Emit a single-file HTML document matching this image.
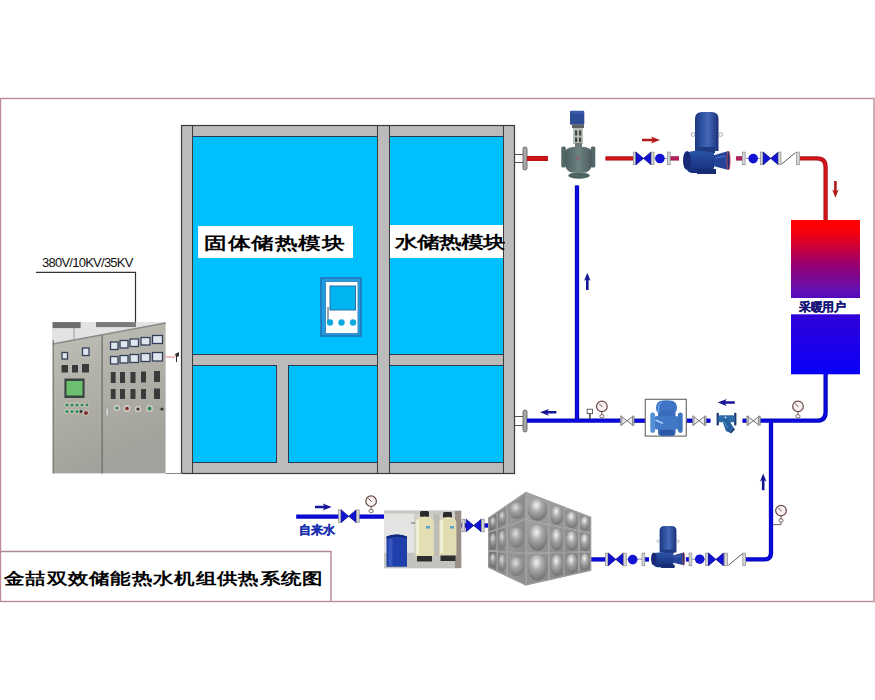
<!DOCTYPE html>
<html><head><meta charset="utf-8">
<style>
html,body{margin:0;padding:0;background:#fff;}
body{width:875px;height:700px;position:relative;overflow:hidden;font-family:"Liberation Sans",sans-serif;}
svg{position:absolute;left:0;top:0;}
.t{position:absolute;white-space:nowrap;line-height:1;}
</style></head><body>
<svg width="875" height="700" viewBox="0 0 875 700">
<defs>
<linearGradient id="ug" x1="0" y1="0" x2="0" y2="1">
<stop offset="0" stop-color="#ff0000"/>
<stop offset="0.08" stop-color="#f4000e"/>
<stop offset="0.16" stop-color="#d40030"/>
<stop offset="0.29" stop-color="#980070"/>
<stop offset="0.45" stop-color="#6410b0"/>
<stop offset="0.62" stop-color="#3000d8"/>
<stop offset="1" stop-color="#0800fa"/>
</linearGradient>

<g id="fl"><rect x="0" y="-6.3" width="2.8" height="12.6" fill="#d6d6d6" stroke="#8a8a8a" stroke-width="0.7"/></g>
<g id="bt"><path d="M0,-6.3 L15,6.3 L15,-6.3 L0,6.3 Z" fill="#1212d2" stroke="#00008a" stroke-width="0.7" stroke-linejoin="round"/></g>
<g id="gv"><path d="M0,-4.3 L11,4.3 L11,-4.3 L0,4.3 Z" fill="#ececec" stroke="#6a6a6a" stroke-width="0.9"/><rect x="11" y="-4.8" width="1.6" height="9.6" fill="#bbb" stroke="#777" stroke-width="0.5"/><rect x="-1" y="-4.8" width="1.6" height="9.6" fill="#bbb" stroke="#777" stroke-width="0.5"/></g>
<g id="ck"><line x1="0.5" y1="5.8" x2="14.5" y2="-5.8" stroke="#5a5a5a" stroke-width="1"/></g>
<g id="pg"><circle cx="0" cy="0" r="5.3" fill="#fbf2f2" stroke="#6a4848" stroke-width="1.2"/><line x1="-2.8" y1="-2.8" x2="0.5" y2="0.5" stroke="#6a4848" stroke-width="1"/><line x1="0" y1="5.3" x2="0" y2="8.5" stroke="#6a4848" stroke-width="1"/><rect x="-2" y="8.3" width="4" height="3" rx="1.3" fill="#fff" stroke="#6a5050" stroke-width="0.9"/></g>
<linearGradient id="motor" x1="0" y1="0" x2="1" y2="0"><stop offset="0" stop-color="#1c3680"/><stop offset="0.3" stop-color="#2e54a4"/><stop offset="0.55" stop-color="#4468b8"/><stop offset="1" stop-color="#1a3078"/></linearGradient>
<linearGradient id="vol" x1="0" y1="0" x2="0" y2="1"><stop offset="0" stop-color="#2a54a8"/><stop offset="1" stop-color="#142a78"/></linearGradient>
<linearGradient id="vbody" x1="0" y1="0" x2="1" y2="0"><stop offset="0" stop-color="#4a5e60"/><stop offset="0.5" stop-color="#6f8282"/><stop offset="1" stop-color="#4a5c5e"/></linearGradient>
<linearGradient id="cab" x1="0" y1="0" x2="0.3" y2="1"><stop offset="0" stop-color="#c0c0b8"/><stop offset="0.5" stop-color="#b0b0a8"/><stop offset="1" stop-color="#a2a29c"/></linearGradient>
<linearGradient id="tankL" x1="0" y1="0" x2="1" y2="0"><stop offset="0" stop-color="#6e6e6e"/><stop offset="0.6" stop-color="#989898"/><stop offset="1" stop-color="#8a8a8a"/></linearGradient>
<linearGradient id="tankR" x1="0" y1="0" x2="1" y2="1"><stop offset="0" stop-color="#a4a4a4"/><stop offset="1" stop-color="#7c7c7c"/></linearGradient>
<radialGradient id="dome" cx="0.45" cy="0.3" r="0.75"><stop offset="0" stop-color="#f4f4f4"/><stop offset="0.4" stop-color="#a8a8a8"/><stop offset="1" stop-color="#6a6a6a"/></radialGradient>
</defs>
<!-- outer border -->
<rect x="0.5" y="98.5" width="873.5" height="503" fill="none" stroke="#bd8a95" stroke-width="1.4"/>
<!-- title box -->
<polyline points="0.5,551.5 331,551.5 331,601.5" fill="none" stroke="#b08a90" stroke-width="1.4"/>

<!-- storage frame -->
<rect x="181.5" y="125.5" width="333" height="348" fill="#bbbbbb" stroke="#3a3a3a" stroke-width="1.2"/>
<rect x="192.5" y="136.5" width="185" height="218" fill="#00bfff" stroke="#2a3a50" stroke-width="1"/>
<rect x="389.5" y="136.5" width="114" height="218" fill="#00bfff" stroke="#2a3a50" stroke-width="1"/>
<rect x="192.5" y="365.5" width="84" height="97" fill="#00bfff" stroke="#2a3a50" stroke-width="1"/>
<rect x="288.5" y="365.5" width="89" height="97" fill="#00bfff" stroke="#2a3a50" stroke-width="1"/>
<rect x="389.5" y="365.5" width="114" height="97" fill="#00bfff" stroke="#2a3a50" stroke-width="1"/>
<g stroke="#3a3a3a" stroke-width="1">
<line x1="192.5" y1="125.5" x2="192.5" y2="473"/>
<line x1="377.5" y1="125.5" x2="377.5" y2="473"/>
<line x1="389.5" y1="125.5" x2="389.5" y2="473"/>
<line x1="503.5" y1="125.5" x2="503.5" y2="473"/>
</g>
<line x1="166" y1="473.5" x2="182" y2="473.5" stroke="#888" stroke-width="1"/>

<!-- labels boxes -->
<rect x="198" y="226" width="155" height="32" fill="#fff"/>
<rect x="390" y="225" width="113" height="33" fill="#fff"/>

<!-- controller -->
<rect x="321" y="278" width="40" height="58" fill="#1e9ee0" stroke="#2470b0" stroke-width="1.5"/>
<rect x="325.5" y="281.5" width="32.5" height="52" fill="#fff" stroke="#3a8ac8" stroke-width="1"/>
<rect x="330" y="286" width="25.5" height="24" fill="#00b4f0" stroke="#2a70a8" stroke-width="1"/>
<line x1="328" y1="307" x2="328" y2="321" stroke="#2a4a70" stroke-width="1"/>
<circle cx="330" cy="322.5" r="3.2" fill="#10a8e0"/>
<circle cx="341.5" cy="322.5" r="3.2" fill="#10a8e0"/>
<circle cx="353" cy="322.5" r="3.2" fill="#10a8e0"/>

<!-- top outlet -->
<line x1="515" y1="154.5" x2="524" y2="154.5" stroke="#555" stroke-width="1"/>
<line x1="515" y1="162.5" x2="524" y2="162.5" stroke="#555" stroke-width="1"/>
<rect x="523" y="147" width="4" height="23" rx="2" fill="#a8a8a8" stroke="#555" stroke-width="0.8"/>
<rect x="527" y="156" width="21" height="5" fill="#d01010"/>
<!-- bottom outlet -->
<line x1="515" y1="416.5" x2="524" y2="416.5" stroke="#555" stroke-width="1"/>
<line x1="515" y1="425.5" x2="524" y2="425.5" stroke="#555" stroke-width="1"/>
<rect x="523" y="410" width="4" height="22" rx="2" fill="#a8a8a8" stroke="#555" stroke-width="0.8"/>


<!-- ===== PIPES ===== -->
<g fill="none" stroke-width="4.3" stroke-linecap="butt">
<path d="M527,158.4 H548" stroke="#a81616"/>
<path d="M605.5,158.4 H633.3" stroke="#a81616"/>
<path d="M670,158.4 H679" stroke="#901848"/>
<path d="M736,158.4 H742.3" stroke="#901848"/>
<path d="M800,158.4 H817 Q825.6,158.4 825.6,167 V221" stroke="#a81616"/>
<path d="M825.6,374 V412 Q825.6,420.7 817,420.7 H760" stroke="#0606b0"/>
<path d="M527,420.7 H620.5" stroke="#0606b0"/>
<path d="M633.5,420.7 H646" stroke="#0606b0"/>
<path d="M686,420.7 H693.3" stroke="#0606b0"/>
<path d="M706,420.7 H710.4" stroke="#0606b0"/>
<path d="M742.6,420.7 H746.5" stroke="#0606b0"/>
<path d="M577,185.5 V420.7" stroke="#0606b0"/>
<path d="M771,420.7 V553 Q771,559.4 764.6,559.4 H745.8" stroke="#0606b0"/>
<path d="M591,559.4 H605.5" stroke="#0606b0"/>
<path d="M644.5,559.4 H649" stroke="#0606b0"/>
<path d="M686,559.4 H689" stroke="#0606b0"/>
<path d="M483,525.5 H489" stroke="#0606b0"/>
<path d="M461,525.5 H466.5" stroke="#0606b0"/>
<path d="M296.3,516.6 H339.5" stroke="#0606b0"/>
<path d="M358.5,516.6 H384.5" stroke="#0606b0"/>
</g>
<g fill="none" stroke-width="2.4" stroke-linecap="butt">
<path d="M527,158.4 H548" stroke="#d81418"/>
<path d="M605.5,158.4 H633.3" stroke="#d81418"/>
<path d="M670,158.4 H679" stroke="#c02060"/>
<path d="M736,158.4 H742.3" stroke="#c02060"/>
<path d="M800,158.4 H817 Q825.6,158.4 825.6,167 V221" stroke="#d81418"/>
<path d="M825.6,374 V412 Q825.6,420.7 817,420.7 H760" stroke="#0a0ae4"/>
<path d="M527,420.7 H620.5" stroke="#0a0ae4"/>
<path d="M633.5,420.7 H646" stroke="#0a0ae4"/>
<path d="M686,420.7 H693.3" stroke="#0a0ae4"/>
<path d="M706,420.7 H710.4" stroke="#0a0ae4"/>
<path d="M742.6,420.7 H746.5" stroke="#0a0ae4"/>
<path d="M577,185.5 V420.7" stroke="#0a0ae4"/>
<path d="M771,420.7 V553 Q771,559.4 764.6,559.4 H745.8" stroke="#0a0ae4"/>
<path d="M591,559.4 H605.5" stroke="#0a0ae4"/>
<path d="M644.5,559.4 H649" stroke="#0a0ae4"/>
<path d="M686,559.4 H689" stroke="#0a0ae4"/>
<path d="M483,525.5 H489" stroke="#0a0ae4"/>
<path d="M461,525.5 H466.5" stroke="#0a0ae4"/>
<path d="M296.3,516.6 H339.5" stroke="#0a0ae4"/>
<path d="M358.5,516.6 H384.5" stroke="#0a0ae4"/>
</g>
<line x1="654" y1="158.4" x2="668" y2="158.4" stroke="#6a6a9a" stroke-width="0.8"/>
<line x1="746" y1="158.4" x2="761" y2="158.4" stroke="#6a6a9a" stroke-width="0.8"/>
<line x1="692" y1="559.2" x2="706" y2="559.2" stroke="#6a6a9a" stroke-width="0.8"/>
<line x1="626" y1="559.2" x2="642" y2="559.2" stroke="#6a6a9a" stroke-width="0.8"/>

<!-- top valve group -->
<use href="#fl" x="633.3" y="158.4"/>
<use href="#bt" x="636" y="158.4"/>
<use href="#fl" x="651.2" y="158.4"/>
<circle cx="659.9" cy="158.5" r="4.8" fill="#1212d2"/>
<use href="#fl" x="667.4" y="158.4"/>
<use href="#fl" x="742.3" y="158.4"/>
<circle cx="753.2" cy="158.6" r="4.8" fill="#1212d2"/>
<use href="#fl" x="760.6" y="158.4"/>
<use href="#bt" x="763.2" y="158.4"/>
<use href="#fl" x="778.2" y="158.4"/>
<use href="#ck" x="781" y="158.4"/>
<use href="#fl" x="796.5" y="158.4"/>

<!-- bottom valve group -->
<use href="#fl" x="605.5" y="559.4"/>
<use href="#bt" x="608.3" y="559.4"/>
<use href="#fl" x="623.5" y="559.4"/>
<circle cx="632.7" cy="559.6" r="4.8" fill="#1212d2"/>
<use href="#fl" x="642" y="559.4"/>
<use href="#fl" x="689" y="559.4"/>
<circle cx="699.7" cy="559.2" r="4.8" fill="#1212d2"/>
<use href="#fl" x="705.6" y="559.4"/>
<use href="#bt" x="708.4" y="559.4"/>
<use href="#fl" x="724.6" y="559.4"/>
<use href="#ck" x="728" y="559.4"/>
<use href="#fl" x="742.8" y="559.4"/>

<!-- intake valves -->
<use href="#fl" x="338.6" y="516.2"/>
<use href="#bt" x="341.2" y="516.2"/>
<use href="#fl" x="356.4" y="516.2"/>
<use href="#fl" x="462" y="525.5"/>
<use href="#bt" x="466.2" y="525.5"/>
<use href="#fl" x="481.4" y="525.5"/>

<!-- return gate valves -->
<use href="#gv" x="621.5" y="420.8"/>
<use href="#gv" x="693.5" y="420.8"/>
<use href="#gv" x="747.8" y="420.8"/>

<!-- gauges -->
<use href="#pg" x="601.9" y="406.4"/>
<use href="#pg" x="798" y="406.4"/>
<use href="#pg" x="371.1" y="501.2"/>
<use href="#pg" x="781" y="510.6"/>
<path d="M781,522 V524.6 H773" fill="none" stroke="#5a5050" stroke-width="0.9"/>
<rect x="587.2" y="409.2" width="5.3" height="4.4" fill="#fff" stroke="#555" stroke-width="0.9"/>
<line x1="589.9" y1="413.6" x2="589.9" y2="418.8" stroke="#333" stroke-width="1.4"/>

<!-- arrows -->
<g fill="#141496" stroke="none">
<path d="M540,412.3 L549,408.9 L547.6,411 H556.4 V413.6 H547.6 L549,415.7 Z"/>
<path d="M717.7,402.5 L726.7,399.1 L725.3,401.2 H734.8 V403.8 H725.3 L726.7,405.9 Z"/>
<path d="M587.3,272.8 L584,281 L586,279.6 V290 H588.6 V279.6 L590.6,281 Z"/>
<path d="M763.2,473.5 L759.9,481.7 L761.9,480.3 V490.2 H764.5 V480.3 L766.5,481.7 Z"/>
<path d="M331.7,507 L322.7,503.6 L324.1,505.7 H315 V508.3 H324.1 L322.7,510.4 Z"/>
</g>
<g fill="#b41c1c" stroke="none">
<path d="M660,140 L651,136.6 L652.4,138.7 H642 V141.3 H652.4 L651,143.4 Z"/>
<path d="M835.4,197.8 L832.1,189.6 L834.1,191 V181 H836.7 V191 L838.7,189.6 Z"/>
</g>

<!-- tank -->
<polygon points="488.6,517.9 525.8,492.4 525.8,585 488.6,567.4" fill="url(#tankL)"/>
<polygon points="525.8,492.4 590.7,517.2 590.7,570.4 525.8,585" fill="url(#tankR)"/>
<polygon points="488.6,517.9 497.4,511.9 497.4,529.2 488.6,532.3" fill="none" stroke="#c4c4c4" stroke-width="1.2"/>
<polygon points="488.6,517.9 497.4,511.9 497.4,529.2 488.6,532.3" fill="none" stroke="#6a6a6a" stroke-width="0.5"/>
<ellipse cx="493.0" cy="522.8" rx="3.5" ry="5.7" fill="url(#dome)" opacity="0.8"/>
<polygon points="488.6,532.3 497.4,529.2 497.4,551.3 488.6,550.6" fill="none" stroke="#c4c4c4" stroke-width="1.2"/>
<polygon points="488.6,532.3 497.4,529.2 497.4,551.3 488.6,550.6" fill="none" stroke="#6a6a6a" stroke-width="0.5"/>
<ellipse cx="493.0" cy="540.8" rx="3.5" ry="7.3" fill="url(#dome)" opacity="0.8"/>
<polygon points="488.6,550.6 497.4,551.3 497.4,571.6 488.6,567.4" fill="none" stroke="#c4c4c4" stroke-width="1.2"/>
<polygon points="488.6,550.6 497.4,551.3 497.4,571.6 488.6,567.4" fill="none" stroke="#6a6a6a" stroke-width="0.5"/>
<ellipse cx="493.0" cy="560.2" rx="3.5" ry="6.7" fill="url(#dome)" opacity="0.8"/>
<polygon points="497.4,511.9 506.9,505.4 506.9,525.9 497.4,529.2" fill="none" stroke="#c4c4c4" stroke-width="1.2"/>
<polygon points="497.4,511.9 506.9,505.4 506.9,525.9 497.4,529.2" fill="none" stroke="#6a6a6a" stroke-width="0.5"/>
<ellipse cx="502.2" cy="518.1" rx="3.8" ry="6.9" fill="url(#dome)" opacity="0.8"/>
<polygon points="497.4,529.2 506.9,525.9 506.9,552.0 497.4,551.3" fill="none" stroke="#c4c4c4" stroke-width="1.2"/>
<polygon points="497.4,529.2 506.9,525.9 506.9,552.0 497.4,551.3" fill="none" stroke="#6a6a6a" stroke-width="0.5"/>
<ellipse cx="502.2" cy="539.6" rx="3.8" ry="8.8" fill="url(#dome)" opacity="0.8"/>
<polygon points="497.4,551.3 506.9,552.0 506.9,576.1 497.4,571.6" fill="none" stroke="#c4c4c4" stroke-width="1.2"/>
<polygon points="497.4,551.3 506.9,552.0 506.9,576.1 497.4,571.6" fill="none" stroke="#6a6a6a" stroke-width="0.5"/>
<ellipse cx="502.2" cy="562.7" rx="3.8" ry="8.1" fill="url(#dome)" opacity="0.8"/>
<polygon points="506.9,505.4 525.8,492.4 525.8,519.3 506.9,525.9" fill="none" stroke="#c4c4c4" stroke-width="1.2"/>
<polygon points="506.9,505.4 525.8,492.4 525.8,519.3 506.9,525.9" fill="none" stroke="#6a6a6a" stroke-width="0.5"/>
<ellipse cx="516.4" cy="510.7" rx="7.6" ry="8.2" fill="url(#dome)" opacity="0.8"/>
<polygon points="506.9,525.9 525.8,519.3 525.8,553.5 506.9,552.0" fill="none" stroke="#c4c4c4" stroke-width="1.2"/>
<polygon points="506.9,525.9 525.8,519.3 525.8,553.5 506.9,552.0" fill="none" stroke="#6a6a6a" stroke-width="0.5"/>
<ellipse cx="516.4" cy="537.7" rx="7.6" ry="10.5" fill="url(#dome)" opacity="0.8"/>
<polygon points="506.9,552.0 525.8,553.5 525.8,585.0 506.9,576.1" fill="none" stroke="#c4c4c4" stroke-width="1.2"/>
<polygon points="506.9,552.0 525.8,553.5 525.8,585.0 506.9,576.1" fill="none" stroke="#6a6a6a" stroke-width="0.5"/>
<ellipse cx="516.4" cy="566.6" rx="7.6" ry="9.6" fill="url(#dome)" opacity="0.8"/>
<polygon points="525.8,492.4 549.1,501.3 549.1,524.8 525.8,520.2" fill="none" stroke="#c4c4c4" stroke-width="1.2"/>
<polygon points="525.8,492.4 549.1,501.3 549.1,524.8 525.8,520.2" fill="none" stroke="#6a6a6a" stroke-width="0.5"/>
<ellipse cx="537.4" cy="509.7" rx="9.8" ry="11.1" fill="url(#dome)" opacity="1.0"/>
<polygon points="525.8,520.2 549.1,524.8 549.1,552.7 525.8,553.1" fill="none" stroke="#c4c4c4" stroke-width="1.2"/>
<polygon points="525.8,520.2 549.1,524.8 549.1,552.7 525.8,553.1" fill="none" stroke="#6a6a6a" stroke-width="0.5"/>
<ellipse cx="537.4" cy="537.7" rx="9.8" ry="13.1" fill="url(#dome)" opacity="1.0"/>
<polygon points="525.8,553.1 549.1,552.7 549.1,579.8 525.8,585.0" fill="none" stroke="#c4c4c4" stroke-width="1.2"/>
<polygon points="525.8,553.1 549.1,552.7 549.1,579.8 525.8,585.0" fill="none" stroke="#6a6a6a" stroke-width="0.5"/>
<ellipse cx="537.4" cy="567.6" rx="9.8" ry="12.8" fill="url(#dome)" opacity="1.0"/>
<polygon points="549.1,501.3 564.4,507.2 564.4,527.9 549.1,524.8" fill="none" stroke="#c4c4c4" stroke-width="1.2"/>
<polygon points="549.1,501.3 564.4,507.2 564.4,527.9 549.1,524.8" fill="none" stroke="#6a6a6a" stroke-width="0.5"/>
<ellipse cx="556.8" cy="515.3" rx="6.4" ry="9.4" fill="url(#dome)" opacity="1.0"/>
<polygon points="549.1,524.8 564.4,527.9 564.4,552.5 549.1,552.7" fill="none" stroke="#c4c4c4" stroke-width="1.2"/>
<polygon points="549.1,524.8 564.4,527.9 564.4,552.5 549.1,552.7" fill="none" stroke="#6a6a6a" stroke-width="0.5"/>
<ellipse cx="556.8" cy="539.5" rx="6.4" ry="11.1" fill="url(#dome)" opacity="1.0"/>
<polygon points="549.1,552.7 564.4,552.5 564.4,576.3 549.1,579.8" fill="none" stroke="#c4c4c4" stroke-width="1.2"/>
<polygon points="549.1,552.7 564.4,552.5 564.4,576.3 549.1,579.8" fill="none" stroke="#6a6a6a" stroke-width="0.5"/>
<ellipse cx="556.8" cy="565.3" rx="6.4" ry="10.8" fill="url(#dome)" opacity="1.0"/>
<polygon points="564.4,507.2 579.0,512.7 579.0,530.8 564.4,527.9" fill="none" stroke="#c4c4c4" stroke-width="1.2"/>
<polygon points="564.4,507.2 579.0,512.7 579.0,530.8 564.4,527.9" fill="none" stroke="#6a6a6a" stroke-width="0.5"/>
<ellipse cx="571.7" cy="519.7" rx="6.1" ry="8.3" fill="url(#dome)" opacity="1.0"/>
<polygon points="564.4,527.9 579.0,530.8 579.0,552.2 564.4,552.5" fill="none" stroke="#c4c4c4" stroke-width="1.2"/>
<polygon points="564.4,527.9 579.0,530.8 579.0,552.2 564.4,552.5" fill="none" stroke="#6a6a6a" stroke-width="0.5"/>
<ellipse cx="571.7" cy="540.9" rx="6.1" ry="9.8" fill="url(#dome)" opacity="1.0"/>
<polygon points="564.4,552.5 579.0,552.2 579.0,573.0 564.4,576.3" fill="none" stroke="#c4c4c4" stroke-width="1.2"/>
<polygon points="564.4,552.5 579.0,552.2 579.0,573.0 564.4,576.3" fill="none" stroke="#6a6a6a" stroke-width="0.5"/>
<ellipse cx="571.7" cy="563.5" rx="6.1" ry="9.5" fill="url(#dome)" opacity="1.0"/>
<polygon points="579.0,512.7 590.7,517.2 590.7,533.2 579.0,530.8" fill="none" stroke="#c4c4c4" stroke-width="1.2"/>
<polygon points="579.0,512.7 590.7,517.2 590.7,533.2 579.0,530.8" fill="none" stroke="#6a6a6a" stroke-width="0.5"/>
<ellipse cx="584.9" cy="523.5" rx="4.9" ry="7.2" fill="url(#dome)" opacity="1.0"/>
<polygon points="579.0,530.8 590.7,533.2 590.7,552.0 579.0,552.2" fill="none" stroke="#c4c4c4" stroke-width="1.2"/>
<polygon points="579.0,530.8 590.7,533.2 590.7,552.0 579.0,552.2" fill="none" stroke="#6a6a6a" stroke-width="0.5"/>
<ellipse cx="584.9" cy="542.1" rx="4.9" ry="8.6" fill="url(#dome)" opacity="1.0"/>
<polygon points="579.0,552.2 590.7,552.0 590.7,570.4 579.0,573.0" fill="none" stroke="#c4c4c4" stroke-width="1.2"/>
<polygon points="579.0,552.2 590.7,552.0 590.7,570.4 579.0,573.0" fill="none" stroke="#6a6a6a" stroke-width="0.5"/>
<ellipse cx="584.9" cy="561.9" rx="4.9" ry="8.3" fill="url(#dome)" opacity="1.0"/>
<!-- motorized valve -->
<rect x="570" y="110.7" width="14.3" height="14" rx="1.2" fill="#2e4c98"/>
<rect x="570.5" y="111" width="13.5" height="2.5" fill="#3a5cb0"/>
<rect x="572" y="124.5" width="12" height="3.5" fill="#606462"/>
<rect x="573" y="128" width="10" height="16" fill="#b8beb8"/>
<rect x="575" y="130.5" width="2.2" height="5" fill="#3e4440"/>
<rect x="579" y="130.5" width="2.2" height="5" fill="#3e4440"/>
<rect x="575" y="137.5" width="2.2" height="4.5" fill="#3e4440"/>
<rect x="579" y="137.5" width="2.2" height="4.5" fill="#3e4440"/>
<rect x="575" y="143" width="7" height="4" fill="#6a7876"/>
<rect x="561.3" y="146.5" width="4.5" height="21" rx="1.5" fill="#536866"/>
<rect x="590.8" y="146.5" width="4.5" height="21" rx="1.5" fill="#536866"/>
<path d="M565,153 Q565,146.5 578.5,146.5 Q592,146.5 592,153 V163 Q592,170 586,172.5 H571 Q565,170 565,163 Z" fill="url(#vbody)"/>
<ellipse cx="579" cy="175.5" rx="10.8" ry="3.3" fill="#4e6462"/>
<circle cx="577.5" cy="158" r="2" fill="#a05060" opacity="0.5"/>
<!-- top pump -->
<g id="pumpg" transform="translate(683,112)">
<path d="M12,39 V7 Q12,0 19,0 H28.5 Q35.5,0 35.5,7 V39 Z" fill="url(#motor)"/>
<circle cx="10" cy="22.5" r="1.9" fill="none" stroke="#8a96a8" stroke-width="0.8"/>
<circle cx="37.5" cy="22.5" r="1.9" fill="none" stroke="#8a96a8" stroke-width="0.8"/>
<rect x="15" y="35" width="17" height="6" fill="#1e3a80"/>
<path d="M30,43.5 L45.5,39 V58 L30,54 Z" fill="#24449a"/>
<path d="M5,40 Q18,37 31,41 V56 Q29,61 21,61 H9 Q3,60 3,53 Z" fill="url(#vol)"/>
<ellipse cx="4" cy="48.5" rx="4" ry="9.5" fill="#1a2a78"/>
<ellipse cx="45.5" cy="48.5" rx="1.6" ry="9.5" fill="#1c3080" stroke="#c85050" stroke-width="0.9"/>
<rect x="14" y="57" width="19" height="5" fill="#162c70"/>
<path d="M33,46 L42,44" stroke="#6a8ad0" stroke-width="0.8"/>
</g>
<!-- bottom pump -->
<use href="#pumpg" transform="translate(651,526) scale(0.717,0.677) translate(-683,-112)"/>
<!-- balancing valve box -->
<rect x="645.3" y="399.3" width="41" height="36.8" fill="#fff" stroke="#707070" stroke-width="1.2"/>
<path d="M660,401 Q666.5,399.3 673,401 Q677,403 677,408 Q677,411 675,412.5 H658 Q656,411 656,408 Q656,403 660,401 Z" fill="#3d74c4"/>
<rect x="658" y="410.5" width="17.5" height="25.3" rx="3" fill="#3a6cbc"/>
<rect x="653.5" y="416" width="26" height="13.5" rx="4" fill="#4278c6"/>
<rect x="650.3" y="412.4" width="4.8" height="20.5" rx="2.4" fill="#5690d8"/>
<rect x="677.9" y="412.4" width="4.8" height="20.5" rx="2.4" fill="#3c74c0"/>
<path d="M659,412 Q657,405 662,402" stroke="#6aa6ec" stroke-width="1.3" fill="none"/>
<path d="M655.5,420 L663,423.5" stroke="#a8d0f8" stroke-width="1.6" fill="none"/>
<rect x="660" y="430" width="14" height="5.5" fill="#2c58a6"/>
<!-- y-strainer -->
<rect x="716.6" y="412.8" width="2.3" height="12.7" rx="0.8" fill="#1c3c74"/>
<rect x="734.1" y="412.8" width="2.3" height="12.7" rx="0.8" fill="#1c3c74"/>
<rect x="718.5" y="415.3" width="16" height="7" rx="1.5" fill="#2c6aaa"/>
<path d="M721.5,419 L727,417 L733.5,427.5 L729.5,432.5 L726,431 Z" fill="#24609e"/>
<path d="M729.5,432.5 L733.5,427.5 L735,429.5 L731,433.5 Z" fill="#163c70"/>
<path d="M723,421 L728,428" stroke="#5a9ad0" stroke-width="1" fill="none"/>
<circle cx="725.5" cy="417.5" r="1" fill="#c8e0f8"/>
<!-- cabinet -->
<rect x="52.6" y="322.1" width="113" height="151.3" fill="url(#cab)"/>
<path d="M52.6,322.1 H165.7 L165.7,323 L52.6,344 Z" fill="#e2e4e4"/>
<rect x="52.6" y="322.1" width="28" height="6" fill="#6e6e6e"/>
<rect x="96" y="322.1" width="40" height="5" fill="#7a7a78"/>
<line x1="74" y1="328" x2="74" y2="340" stroke="#9a9a9a" stroke-width="1"/>
<line x1="52.6" y1="344" x2="165.7" y2="323" stroke="#8a8a86" stroke-width="1.5"/>
<line x1="102.1" y1="335" x2="102.1" y2="473.4" stroke="#6a6a66" stroke-width="1.2"/>
<line x1="53.3" y1="340" x2="53.3" y2="473.4" stroke="#7a7a76" stroke-width="1.2"/>
<g fill="#dfe6ee" stroke="#34405a" stroke-width="1.3">
<rect x="62" y="352.5" width="5.5" height="6.5"/>
<rect x="82.5" y="348" width="6.5" height="7.5"/>
<rect x="110.5" y="342" width="7.5" height="7.5"/><rect x="120" y="340.5" width="8" height="7.5"/><rect x="130" y="339" width="8.5" height="7.5"/><rect x="141" y="337.5" width="9" height="7.5"/><rect x="152.5" y="335.5" width="10" height="8"/>
<rect x="110.5" y="356.5" width="7.5" height="7.5"/><rect x="120" y="355.5" width="8" height="7.5"/><rect x="130" y="354.5" width="8.5" height="8"/><rect x="141" y="353.5" width="9" height="8"/><rect x="152.5" y="352.5" width="10" height="8.5"/>
</g>
<g fill="#3a3a3a">
<rect x="61.5" y="365" width="6.5" height="7.5"/><rect x="72" y="365" width="6" height="7.5"/><rect x="82" y="364" width="7" height="8.5"/>
<rect x="110.8" y="372" width="4.8" height="11"/><rect x="120" y="372" width="5" height="11"/><rect x="130.5" y="372" width="5" height="11"/><rect x="141" y="371.5" width="5" height="11"/><rect x="154" y="371" width="6" height="11"/>
<rect x="110.8" y="389" width="4.8" height="10"/><rect x="120" y="389" width="5" height="10"/><rect x="130.5" y="389" width="5" height="10"/><rect x="141" y="389" width="5" height="10"/><rect x="154" y="388.5" width="6" height="10.5"/>
</g>
<rect x="64.4" y="378.5" width="20.2" height="19.5" fill="#3a4440"/>
<rect x="66.5" y="381" width="16" height="14.5" fill="#6cc070"/>
<g fill="#d0c8bc">
<circle cx="117" cy="408" r="3.2"/><circle cx="127" cy="408.5" r="3.4"/><circle cx="138" cy="409" r="3.2"/><circle cx="149.5" cy="408.5" r="3.6"/>
<circle cx="67" cy="405" r="2.4"/><circle cx="72" cy="405" r="2.4"/><circle cx="77" cy="405" r="2.4"/><circle cx="82" cy="405" r="2.4"/><circle cx="87" cy="405" r="2.2"/>
<circle cx="67" cy="411.5" r="2.4"/><circle cx="72" cy="411.5" r="2.4"/><circle cx="77" cy="411.5" r="2.4"/><circle cx="86" cy="413" r="2.8"/>
</g>
<g fill="#2a8a5a">
<circle cx="67" cy="405" r="1.6"/><circle cx="72" cy="405" r="1.6"/><circle cx="77" cy="405" r="1.6"/><circle cx="82" cy="405" r="1.6"/><circle cx="87" cy="405" r="1.4"/>
<circle cx="67" cy="411.5" r="1.6"/><circle cx="72" cy="411.5" r="1.6"/><circle cx="77" cy="411.5" r="1.6"/>
<circle cx="117" cy="408" r="1.6"/><circle cx="149.5" cy="408.5" r="2"/>
</g>
<g fill="#7a2a2a"><circle cx="127" cy="408.5" r="1.8"/><circle cx="86" cy="413" r="2"/></g>
<g fill="#3a3030"><circle cx="138" cy="409" r="1.6"/><circle cx="162" cy="409" r="1.6"/><circle cx="81" cy="411.5" r="1.4"/></g>
<rect x="106" y="408" width="2.5" height="8" fill="#d8d8d8" stroke="#8a8a8a" stroke-width="0.5"/>
<line x1="165.7" y1="357" x2="175" y2="357" stroke="#e06060" stroke-width="0.8"/>
<path d="M175,354 L179,352 V356 L177,357 V362 L176,362 V357 Z" fill="#303030"/>
<!-- power line -->
<polyline points="36,272.3 135.5,272.3 135.5,322" fill="none" stroke="#333" stroke-width="1.2"/>

<!-- softener photo -->
<rect x="384.1" y="510.6" width="77.1" height="57.6" fill="#cfcfcb"/>
<rect x="384.1" y="510.6" width="30" height="42" fill="#e4e4e2"/>
<rect x="384.1" y="510.6" width="77.1" height="3" fill="#c8c8c4"/>
<rect x="384.1" y="553" width="77.1" height="15.2" fill="#c2c2be"/>
<rect x="433.5" y="514" width="6" height="42" fill="#bdbdb5"/>
<rect x="455" y="511" width="6.2" height="57" fill="#9a9088"/>
<rect x="411" y="522" width="5" height="2" fill="#a8a8a8"/>
<path d="M386.5,536.5 Q396.8,532.5 407,536.5 V566.8 H386.5 Z" fill="#1f3faa"/>
<path d="M386.5,536.5 Q396.8,532.5 407,536.5 V538.5 Q396.8,535 386.5,538.5 Z" fill="#142a80"/>
<rect x="388.5" y="539" width="4" height="27" fill="#4262c8" opacity="0.7"/>
<rect x="420" y="511" width="9" height="6" rx="1.5" fill="#2a2a2a"/>
<path d="M415.3,523 Q415.3,516.5 424.5,516.5 Q433.8,516.5 433.8,523 V556 H415.3 Z" fill="#e4deb4"/>
<rect x="416" y="520" width="3" height="34" fill="#f4f2e0" opacity="0.8"/>
<rect x="417" y="556" width="15" height="5.5" fill="#2e2e2e"/>
<rect x="443" y="512" width="9" height="6" rx="1.5" fill="#2a2a2a"/>
<path d="M439.3,523 Q439.3,517 447.8,517 Q456.4,517 456.4,523 V555.5 H439.3 Z" fill="#e2dcb2"/>
<rect x="440" y="520" width="3" height="33" fill="#f4f2e0" opacity="0.8"/>
<rect x="440.5" y="555.5" width="15" height="5.5" fill="#2e2e2e"/>
<rect x="426" y="526" width="4" height="2.5" fill="#60a0c8"/>
<rect x="450" y="526" width="4" height="2.5" fill="#60a0c8"/>
<!-- user box -->
<rect x="791" y="220" width="69" height="154.3" fill="url(#ug)"/>
<rect x="791" y="298" width="69" height="16.3" fill="#fff"/>
</svg>

<div class="t" style="left:204px;top:235px;font-size:22px;letter-spacing:1.5px;color:#000;transform:scaleY(0.75);transform-origin:0 0;font-weight:bold;">固体储热模块</div>
<div class="t" style="left:395px;top:234px;font-size:22px;color:#000;transform:scaleY(0.75);transform-origin:0 0;font-weight:bold;">水储热模块</div>
<div class="t" style="left:42px;top:256px;font-size:13px;color:#111;letter-spacing:-0.75px;">380V/10KV/35KV</div>
<div class="t" style="left:4px;top:570px;font-size:21px;letter-spacing:0.3px;color:#000;transform:scaleY(0.78);transform-origin:0 0;font-weight:bold;">金喆双效储能热水机组供热系统图</div>
<div class="t" style="left:799px;top:302px;font-size:11.5px;font-weight:900;color:#141478;-webkit-text-stroke:0.3px #141478;letter-spacing:-0.5px;">采暖用户</div>
<div class="t" style="left:299px;top:525px;font-size:11.5px;font-weight:900;color:#1830b0;-webkit-text-stroke:0.3px #1830b0;">自来水</div>
</body></html>
